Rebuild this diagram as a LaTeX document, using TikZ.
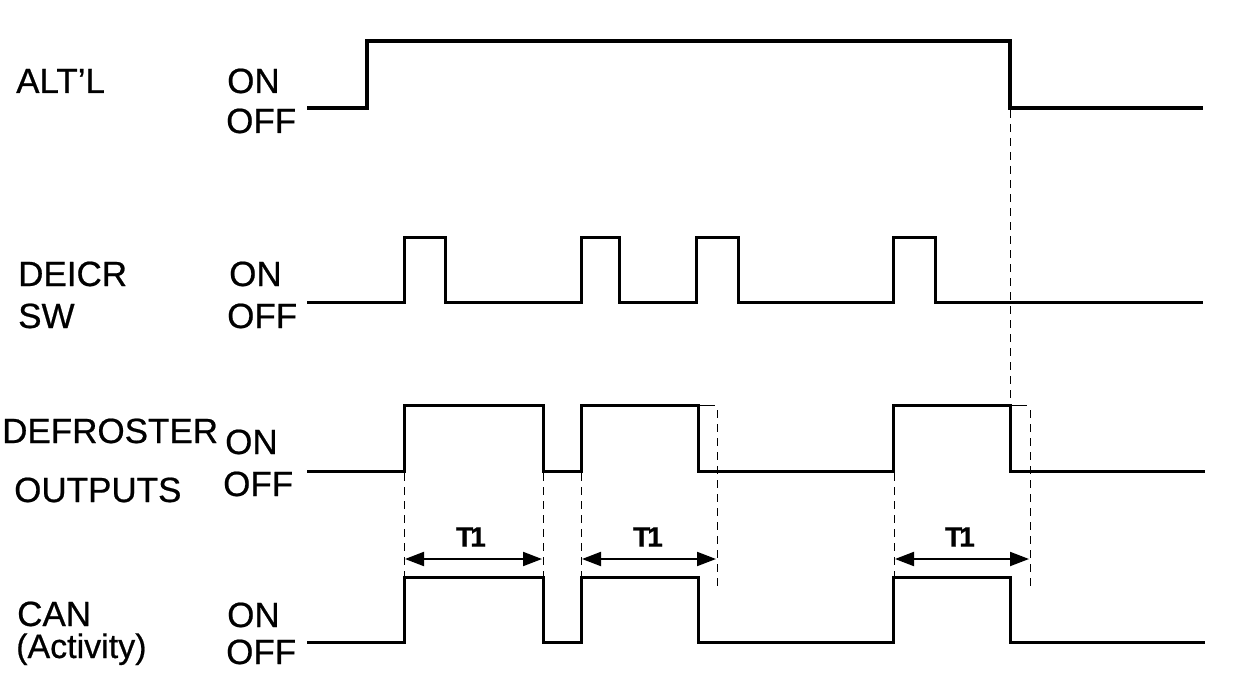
\documentclass[tikz,border=0pt]{standalone}
\usepackage{fontspec}
\setmainfont[FakeBold=0.6]{Liberation Sans}
\usetikzlibrary{arrows.meta}
\begin{document}
\begin{tikzpicture}[x=1pt,y=-1pt,
  lbl/.style={anchor=base west, inner sep=0pt, font=\fontsize{35}{38}\selectfont},
  tlbl/.style={anchor=center, inner sep=0pt, font=\fontsize{28}{30}\selectfont\bfseries},
  wave/.style={line width=3pt, line join=miter},
  thickwave/.style={line width=4pt, line join=miter},
  guide/.style={line width=1pt, dash pattern=on 8pt off 6pt},
  thin/.style={line width=1pt},
  dim/.style={line width=2pt, {Triangle[length=19pt,width=14pt]}-{Triangle[length=19pt,width=14pt]}}]
\useasboundingbox (0,0) rectangle (1248,682);
\fill[white] (0,0) rectangle (1248,682);

% labels
\node[lbl] (alt) at (16,93) {ALT’L};
\node[lbl] (alton) at (227,93) {ON};
\node[lbl] (altoff) at (226,133) {OFF};
\node[lbl] (deicr) at (18,286) {DEICR};
\node[lbl] (sw) at (18,328) {SW};
\node[lbl] (deion) at (229,286) {ON};
\node[lbl] (deioff) at (227,328) {OFF};
\node[lbl] (defr) at (2,443) {DEFROSTER};
\node[lbl] (defon) at (225,454) {ON};
\node[lbl] (defoff) at (223,496) {OFF};
\node[lbl] (outp) at (14,502) {OUTPUTS};
\node[lbl] (can) at (17,626) {CAN};
\node[lbl, font=\fontsize{34}{36}\selectfont] (act) at (16,658) {(Activity)};
\node[lbl] (canon) at (227,627) {ON};
\node[lbl] (canoff) at (226,664) {OFF};

% waveforms
\draw[thickwave] (307,108) -| (367,41) -| (1010,108) -- (1203,108);
\draw[wave] (307,302) -| (404,237) -| (445,302) -| (581,237) -| (619,302) -| (696,237) -| (738,302) -| (893,237) -| (935,302) -- (1203,302);
\draw[wave] (307,471) -| (404,405) -| (543,471) -| (581,405) -| (698,471) -| (893,405) -| (1010,471) -- (1205,471);
\draw[wave] (307,642) -| (404,577) -| (543,642) -| (581,577) -| (698,642) -| (893,577) -| (1010,642) -- (1205,642);

% thin extensions
\draw[thin] (698,405) -- (715,405);
\draw[thin] (1010,405) -- (1027,405);

% guide lines
\draw[guide] (1010,110) -- (1010,405);
\draw[guide] (404,473) -- (404,577);
\draw[guide] (543,473) -- (543,577);
\draw[guide] (581,473) -- (581,577);
\draw[guide] (894,473) -- (894,577);
\draw[guide] (717,410) -- (717,590);
\draw[guide] (1030,410) -- (1030,590);

% T1 dimensions
\coordinate (a1) at (405,559); \coordinate (b1) at (542,559);
\coordinate (a2) at (582,559); \coordinate (b2) at (716,559);
\coordinate (a3) at (895,559); \coordinate (b3) at (1029,559);
\draw[dim] (a1) -- (b1);
\draw[dim] (a2) -- (b2);
\draw[dim] (a3) -- (b3);
\node[tlbl] (t1a) at (471,537) {T\kern-3pt1};
\node[tlbl] (t1b) at (648,537) {T\kern-3pt1};
\node[tlbl] (t1c) at (960,537) {T\kern-3pt1};
\end{tikzpicture}
\end{document}
